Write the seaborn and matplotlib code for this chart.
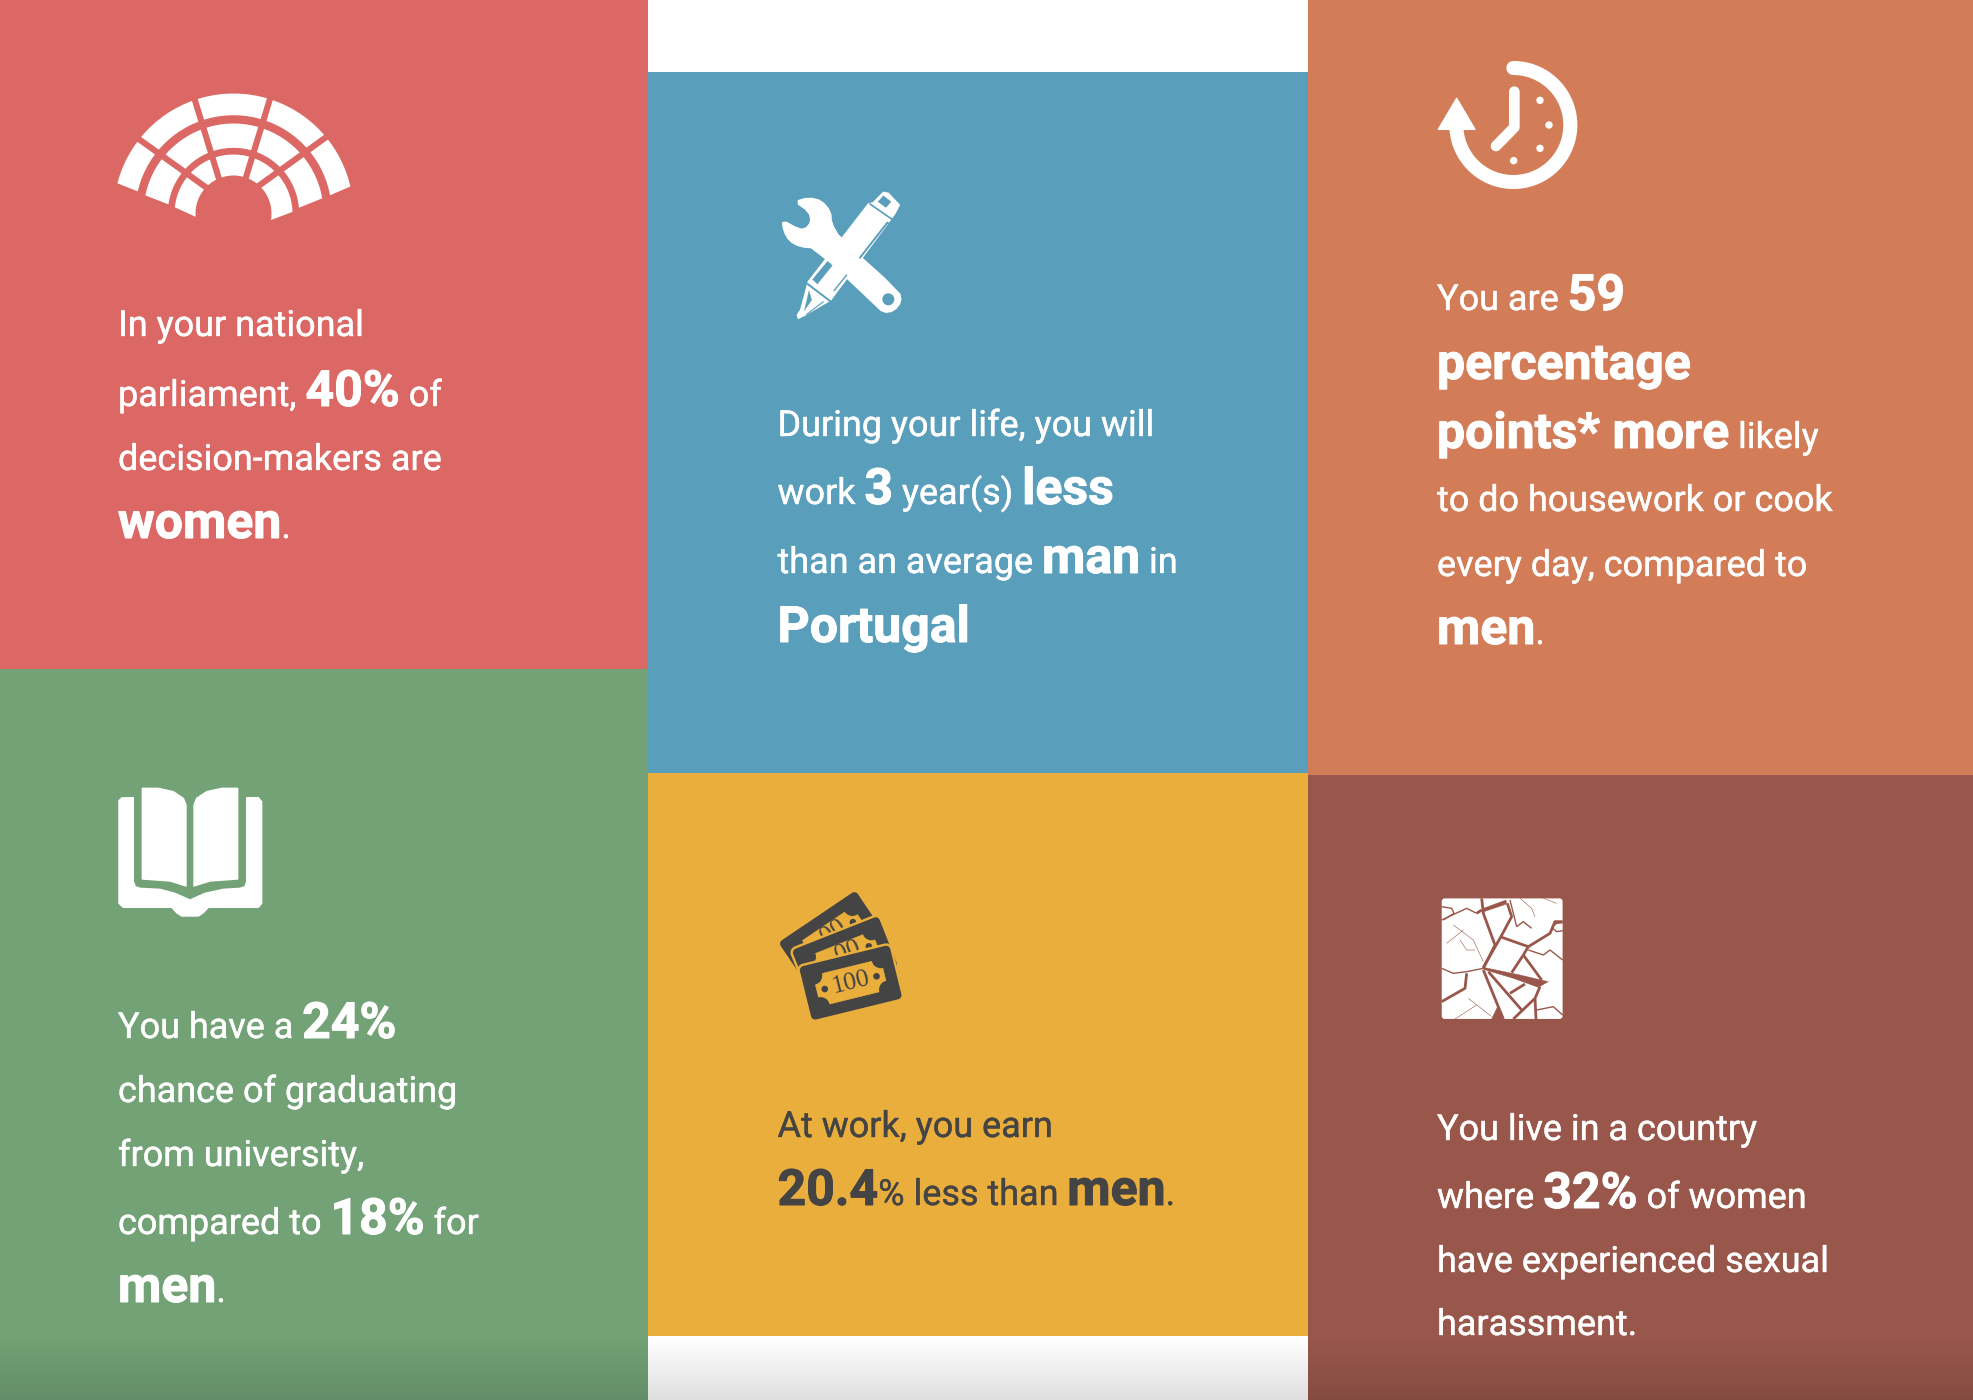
import matplotlib
matplotlib.use("Agg")
import matplotlib.pyplot as plt
import matplotlib.patheffects as pe
from matplotlib.patches import Polygon, Circle, Rectangle, FancyBboxPatch
import numpy as np
import seaborn as sns

# card values, one list of (text, bold) runs per line
card_red = [
    [("In your national", 0)],
    [("parliament, ", 0), ("40%", 1), (" of", 0)],
    [("decision-makers are", 0)],
    [("women", 1), (".", 0)],
]
card_blue = [
    [("During your life, you will", 0)],
    [("work ", 0), ("3", 1), (" year(s) ", 0), ("less", 1)],
    [("than an average ", 0), ("man", 1), (" in", 0)],
    [("Portugal", 1)],
]
card_orange = [
    [("You are ", 0), ("59", 1)],
    [("percentage", 1)],
    [("points* more", 1), (" likely", 0)],
    [("to do housework or cook", 0)],
    [("every day, compared to", 0)],
    [("men", 1), (".", 0)],
]
card_green = [
    [("You have a ", 0), ("24%", 1)],
    [("chance of graduating", 0)],
    [("from university,", 0)],
    [("compared to ", 0), ("18%", 1), (" for", 0)],
    [("men", 1), (".", 0)],
]
card_yellow = [
    [("At work, you earn", 0)],
    [("20.4", 1), ("% less than ", 0), ("men", 1), (".", 0)],
]
card_brown = [
    [("You live in a country", 0)],
    [("where ", 0), ("32%", 1), (" of women", 0)],
    [("have experienced sexual", 0)],
    [("harassment.", 0)],
]

RED, BLUE, ORANGE, GREEN, YELLOW, BROWN = sns.color_palette(
    ["#DB6864", "#599EBB", "#D37D58", "#72A276", "#E9AE3C", "#99574B"])
DARK = "#444444"
W, H = 1974, 1400

sns.set_theme(style="white")
plt.rcParams["font.family"] = ["Roboto", "DejaVu Sans"]

fig = plt.figure(figsize=(W / 100, H / 100), dpi=100, facecolor="white")
ax = fig.add_axes([0, 0, 1, 1])
renderer = fig.canvas.get_renderer()


def box(x0, y0, x1, y1, color):
    ax.add_patch(Rectangle((x0, y0), x1 - x0, y1 - y0, fc=color, ec="none", zorder=1))


def run_width(text, size, weight):
    # the bars keep the leading and trailing spaces in the measure
    t = ax.text(0, 0, "|" + text + "|", fontsize=size, fontweight=weight)
    t2 = ax.text(0, 0, "||", fontsize=size, fontweight=weight)
    w = t.get_window_extent(renderer).width - t2.get_window_extent(renderer).width
    t.remove()
    t2.remove()
    return w


def write_card(lines, x, baselines, color="white"):
    for line, y in zip(lines, baselines):
        cur = x
        for text, bold in line:
            size = 50 * 0.72 if bold else 36 * 0.72
            weight = "bold" if bold else "normal"
            t = ax.text(cur, y, text, fontsize=size, fontweight=weight, color=color,
                        va="baseline", ha="left", zorder=5)
            # the reference text renders a little heavier
            t.set_path_effects([pe.withStroke(linewidth=0.7 if bold else 0.25, foreground=color)])
            cur += run_width(text, size, weight)


def zoomed(points, x0, y0):
    return [(x0 + px / 3, y0 + py / 3) for px, py in points]


def chaikin(points, n=2):
    # corner cutting, rounds a rough outline
    pts = np.array(points, dtype=float)
    for _ in range(n):
        nxt = np.roll(pts, -1, axis=0)
        pts = np.c_[0.75 * pts + 0.25 * nxt, 0.25 * pts + 0.75 * nxt].reshape(-1, 2)
    return [tuple(p) for p in pts]


def shape(points, x0, y0, color="white", z=3, lw=1.0):
    ax.add_patch(Polygon(zoomed(points, x0, y0), closed=True, fc=color, ec=color, lw=lw,
                         joinstyle="round", zorder=z))


def stroke(points, x0, y0, color, lw, z=4, cap="round"):
    pts = zoomed(points, x0, y0)
    ax.plot([p[0] for p in pts], [p[1] for p in pts], color=color, lw=lw, zorder=z,
            solid_capstyle=cap, solid_joinstyle="round")


def ring(cx, cy, r_out, r_in, out_a, in_a):
    t = np.linspace(0, 1, 40)
    a1 = np.radians(out_a[0] + (out_a[1] - out_a[0]) * t)
    a2 = np.radians(in_a[1] + (in_a[0] - in_a[1]) * t)
    xs = np.r_[cx + r_out * np.cos(a1), cx + r_in * np.cos(a2)]
    ys = np.r_[cy - r_out * np.sin(a1), cy - r_in * np.sin(a2)]
    ax.add_patch(Polygon(np.c_[xs, ys], fc="white", ec="none", zorder=3))


def parliament():
    x0, y0 = 80, 60
    cx, cy = 233.5, 213.5
    ring(cx, cy, 120, 98.3, (165.4, 13), (167, 10.7))
    ring(cx, cy, 90, 65.7, (168.4, 9.7), (172, 5))
    ring(cx, cy, 59, 38, (174, 1.6), (185, -10))
    # gaps between the seats
    for gap in ([(340, 105), (418, 360)], [(575, 100), (497, 355)],
                [(165, 229), (385, 387)], [(750, 223), (530, 382)]):
        stroke(gap, x0, y0, RED, 4.4, cap="butt")


def wrench_pen():
    x0, y0 = 740, 160
    # pen
    shape([(205, 365), (385, 132), (400, 128), (430, 97), (445, 100), (478, 135), (465, 160),
           (452, 178), (272, 420), (195, 465), (175, 475), (172, 465), (182, 450)], x0, y0)
    shape([(415, 125), (430, 108), (452, 125), (438, 142)], x0, y0, BLUE, lw=0.5)
    stroke([(390, 132), (462, 182)], x0, y0, BLUE, 1.2)
    stroke([(203, 372), (270, 423)], x0, y0, BLUE, 1.4)
    shape([(218, 358), (268, 298), (282, 310), (232, 372)], x0, y0, BLUE, lw=0.3)
    stroke([(360, 293), (442, 188)], x0, y0, BLUE, 1.4)
    stroke([(282, 392), (320, 345)], x0, y0, BLUE, 1.0)
    shape([(207, 392), (193, 452), (215, 420)], x0, y0, BLUE, lw=0.2)
    stroke([(200, 463), (250, 425)], x0, y0, BLUE, 0.8)
    # pen clip
    stroke([(445, 190), (468, 205), (470, 220), (400, 300), (395, 312)], x0, y0, BLUE, 1.4)
    # wrench
    wrench = [(165, 125), (205, 113), (245, 122), (272, 155), (274, 190), (300, 235), (478, 395),
              (484, 425), (462, 453), (430, 458), (403, 432), (225, 264), (180, 260), (148, 243),
              (131, 212), (127, 180), (175, 207), (197, 207), (214, 185), (207, 155)]
    shape(chaikin(wrench, 1), x0, y0, z=3.5)
    ax.add_patch(Circle((x0 + 445 / 3, y0 + 418 / 3), 6, fc=BLUE, ec="none", zorder=4))


def clock():
    x0, y0 = 1400, 40
    cx, cy, r = 340, 255, 171
    a = np.radians(np.linspace(90, -176, 120))
    stroke(list(zip(cx + r * np.cos(a), cy - r * np.sin(a))), x0, y0, "white", 10.1, cap="round")
    shape([(170, 175), (225, 268), (115, 268)], x0, y0, z=4)
    stroke([(343, 155), (343, 262), (288, 318)], x0, y0, "white", 7.7)
    for px, py in [(420, 181), (447, 255), (420, 325), (341, 362)]:
        ax.add_patch(Circle((x0 + px / 3, y0 + py / 3), 3.7, fc="white", ec="none", zorder=4))


def book():
    x0, y0 = 90, 770
    shape([(157, 55), (205, 55), (250, 65), (280, 85), (288, 105), (288, 348), (240, 333), (157, 327)], x0, y0)
    shape([(443, 55), (395, 55), (350, 65), (320, 85), (312, 105), (312, 348), (360, 333), (443, 327)], x0, y0)
    shape([(95, 84), (130, 83), (130, 335), (136, 350), (150, 355), (210, 358), (255, 370), (300, 390),
           (345, 370), (400, 358), (450, 355), (465, 350), (470, 335), (470, 83), (505, 83), (515, 95),
           (515, 400), (505, 412), (355, 412), (340, 428), (325, 438), (275, 438), (260, 428), (245, 412),
           (100, 412), (87, 400), (87, 92)], x0, y0)


def bill(cx, cy, angle, label, shift=(0, 0)):
    # one banknote, corners are given in the rotated frame
    x0, y0 = 760, 880
    c, s = np.cos(np.radians(angle)), np.sin(np.radians(angle))

    def rot(u, v):
        return (x0 + (cx + u * c + v * s) / 3, y0 + (cy - u * s + v * c) / 3)

    def rect(hw, hh, color, lw, z):
        pts = [rot(-hw, -hh), rot(hw, -hh), rot(hw, hh), rot(-hw, hh)]
        ax.add_patch(Polygon(pts, fc=color, ec=color, lw=lw, joinstyle="round", zorder=z))

    rect(127, 70, YELLOW, 9.5, bill.z)
    rect(127, 70, DARK, 6, bill.z + 0.01)
    rect(104, 47, YELLOW, 0.5, bill.z + 0.02)
    for u, v in [(-104, -47), (104, -47), (104, 47), (-104, 47)]:
        ax.add_patch(Circle(rot(u, v), 9, fc=DARK, ec="none", zorder=bill.z + 0.03))
    dot_v = shift[1] * 0.5
    for u in (-80, 80):
        ax.add_patch(Circle(rot(u, dot_v), 3.3, fc=DARK, ec="none", zorder=bill.z + 0.04))
    tx, ty = rot(shift[0], shift[1])
    ax.text(tx, ty, label, fontsize=18.5, family="Liberation Serif", color=DARK, rotation=angle,
            rotation_mode="anchor", ha="center", va="center", zorder=bill.z + 0.05)
    bill.z += 0.1


def money():
    bill.z = 3.0
    bill(217, 178, 34, "00", (14, -16))
    bill(255, 236, 21.6, "00", (14, -16))
    bill(272, 308, 13.8, "100")


def cracks():
    x0, y0 = 1420, 880
    ax.add_patch(FancyBboxPatch((x0 + 70 / 3, y0 + 60 / 3), 353 / 3, 352 / 3,
                                boxstyle="round,pad=1.6,rounding_size=3", fc="white", ec="none", zorder=3))
    shape([(190, 262), (300, 285), (385, 305), (355, 322), (280, 295), (190, 268)], x0, y0, BROWN, z=4, lw=0.3)
    shape([(258, 60), (190, 85), (192, 95), (260, 72)], x0, y0, BROWN, z=4, lw=0.3)
    shape([(235, 375), (245, 417), (215, 417)], x0, y0, BROWN, z=4, lw=0.3)
    wide = [
        [(185, 55), (190, 100), (225, 195), (190, 265)],
        [(262, 70), (275, 110), (240, 175), (190, 262)],
        [(240, 170), (325, 200)],
        [(325, 200), (310, 225), (275, 278)],
        [(310, 225), (365, 300)],
        [(325, 200), (390, 160), (405, 125), (428, 125)],
        [(140, 280), (135, 325), (65, 365)],
        [(190, 270), (250, 417)],
        [(205, 275), (305, 390)],
        [(360, 320), (345, 355), (280, 417)],
        [(345, 355), (348, 417)],
        [(270, 340), (315, 312)],
        [(185, 90), (170, 100)],
    ]
    for line in wide:
        stroke(line, x0, y0, BROWN, 2.0, cap="butt")
    mid = [
        [(65, 265), (100, 280), (140, 275), (190, 265)],
        [(65, 120), (140, 85), (170, 100)],
        [(65, 80), (95, 85), (102, 100), (70, 120)],
        [(395, 142), (410, 130), (428, 128)],
        [(395, 142), (410, 155), (428, 152)],
        [(325, 210), (370, 225), (390, 210), (428, 240)],
        [(290, 140), (310, 125), (335, 145)],
        [(270, 60), (290, 140)],
        [(350, 390), (400, 380), (428, 405)],
    ]
    for line in mid:
        stroke(line, x0, y0, BROWN, 1.0, cap="butt")
    thin = [
        [(100, 135), (160, 180), (190, 245)],
        [(80, 190), (130, 150)],
        [(120, 180), (140, 210), (165, 210)],
        [(145, 355), (215, 410)],
        [(105, 417), (170, 375)],
        [(300, 55), (335, 85), (345, 110)],
        [(370, 55), (410, 70)],
    ]
    for line in thin:
        stroke(line, x0, y0, BROWN, 0.4, cap="butt")


# background blocks
box(0, 0, 648, 669, RED)
box(0, 669, 648, H, GREEN)
box(648, 72, 1308, 773, BLUE)
box(648, 773, 1308, 1336, YELLOW)
box(1308, 0, W, 775, ORANGE)
box(1308, 775, W, H, BROWN)

# page shadow at the bottom, stops above the yellow block's edge
shade = np.zeros((64, 1, 4))
shade[:, 0, 3] = np.linspace(0, 0.13, 64)
ax.imshow(shade, extent=(0, W, H, 1336), aspect="auto", zorder=2)

parliament()
wrench_pen()
clock()
book()
money()
cracks()

write_card(card_red, 118, [336, 406, 470, 538])
write_card(card_blue, 777.5, [436, 504, 573, 642])
write_card(card_orange, 1437, [310, 379, 448, 511, 576, 644])
write_card(card_green, 118, [1038, 1102, 1166, 1234, 1302])
write_card(card_yellow, 777.5, [1137, 1205], DARK)
write_card(card_brown, 1437, [1140, 1208, 1272, 1335])

ax.set_xlim(0, W)
ax.set_ylim(H, 0)
ax.axis("off")
sns.despine(ax=ax, left=True, bottom=True)

fig.savefig("out.png", dpi=100, facecolor="white")
plt.close("all")
